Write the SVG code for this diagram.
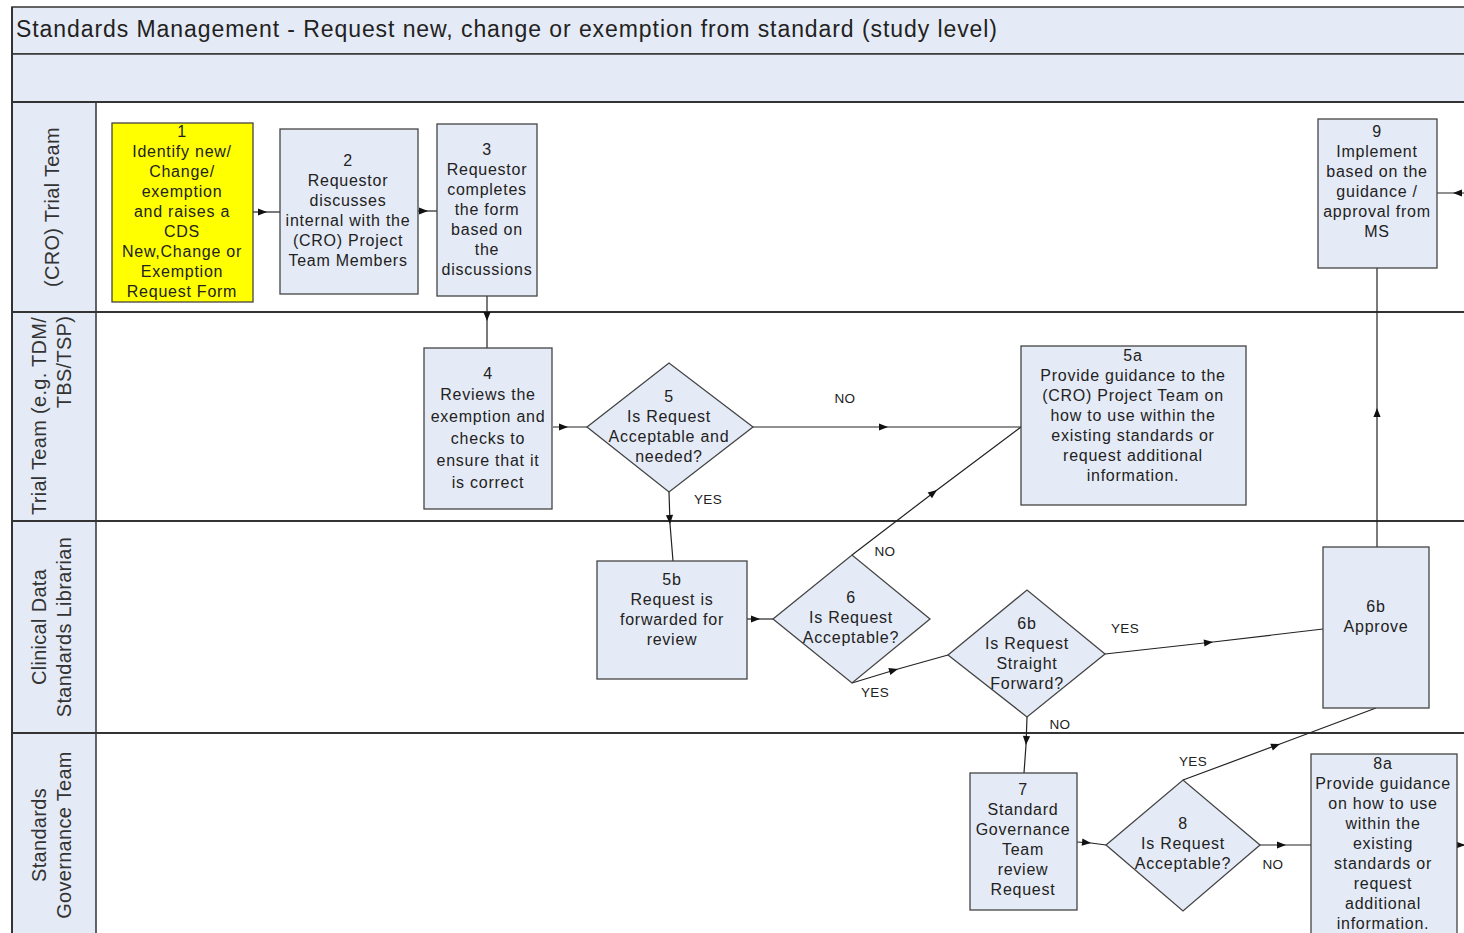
<svg xmlns="http://www.w3.org/2000/svg" width="1464" height="933" viewBox="0 0 1464 933">
<style>
.bg{fill:#ffffff}
.band{fill:#e5ebf6;stroke:#333;stroke-width:1.5}
.lane{stroke:#333;stroke-width:2;fill:none}
.box{fill:#e5ebf6;stroke:#444;stroke-width:1.3}
.yel{fill:#ffff00;stroke:#444;stroke-width:1.3}
.t{font-family:"Liberation Sans",Arial,sans-serif;font-size:16px;letter-spacing:0.75px;fill:#222;text-anchor:middle}
.lbl{font-family:"Liberation Sans",Arial,sans-serif;font-size:13.5px;letter-spacing:0.3px;fill:#222;text-anchor:middle}
.lt{font-family:"Liberation Sans",Arial,sans-serif;font-size:20px;letter-spacing:0.3px;fill:#333;text-anchor:middle}
.title{font-family:"Liberation Sans",Arial,sans-serif;font-size:23px;fill:#222}
.c{stroke:#222;stroke-width:1.2;fill:none;marker-mid:url(#a)}
</style>
<defs>
<marker id="a" viewBox="0 0 10 10" refX="10" refY="5" markerWidth="10" markerHeight="9" markerUnits="userSpaceOnUse" orient="auto"><path d="M0,1 L10,5 L0,9 z" fill="#111"/></marker>
</defs>
<rect class="bg" x="0" y="0" width="1464" height="933"/>
<g id="frame">
<rect class="band" x="12" y="7" width="1470" height="47"/>
<rect class="band" x="12" y="54" width="1470" height="48"/>
<rect class="band" x="12" y="102" width="84" height="840"/>
<line class="lane" x1="12" y1="312" x2="1464" y2="312"/>
<line class="lane" x1="12" y1="521" x2="1464" y2="521"/>
<line class="lane" x1="12" y1="733" x2="1464" y2="733"/>
<line class="lane" x1="12" y1="102" x2="1464" y2="102"/>
<line class="lane" x1="12" y1="7" x2="12" y2="933"/>
<text class="title" x="16" y="37" textLength="981" lengthAdjust="spacing">Standards Management - Request new, change or exemption from standard (study level)</text>
</g>
<g id="lane-labels">
<text class="lt" transform="translate(59,207) rotate(-90)">(CRO) Trial Team</text>
<text class="lt" transform="translate(46,416) rotate(-90)">Trial Team (e.g. TDM/</text>
<text class="lt" transform="translate(71,362) rotate(-90)">TBS/TSP)</text>
<text class="lt" transform="translate(46,627) rotate(-90)">Clinical Data</text>
<text class="lt" transform="translate(71,627) rotate(-90)">Standards Librarian</text>
<text class="lt" transform="translate(46,835) rotate(-90)">Standards</text>
<text class="lt" transform="translate(71,835) rotate(-90)">Governance Team</text>
</g>
<g id="connectors">
<path class="c" d="M253,212 L267,212 L280,212"/>
<path class="c" d="M418,211 L428,211 L437,211"/>
<path class="c" d="M487,296 L487,321 L487,349"/>
<path class="c" d="M553,427 L568,427 L587,427"/>
<path class="c" d="M753,427 L888,427 L1021,427"/>
<path class="c" d="M669,492 L670,524 L673,561"/>
<path class="c" d="M747,619 L760,619 L773,619"/>
<path class="c" d="M852,555 L937,490 L1021,427"/>
<path class="c" d="M852,683 L898,669 L948,655"/>
<path class="c" d="M1105,654 L1213,642 L1323,629"/>
<path class="c" d="M1377,547 L1377,408 L1377,268"/>
<path class="c" d="M1470,193 L1453,193 L1437,193"/>
<path class="c" d="M1027,717 L1026,745 L1024,773"/>
<path class="c" d="M1077,842 L1091,843 L1106,845"/>
<path class="c" d="M1260,845 L1286,845 L1311,845"/>
<path class="c" d="M1183,780 L1280,744 L1376,708"/>
<path class="c" d="M1457,845 L1465,845 L1475,845"/>
<text class="lbl" x="845" y="403">NO</text>
<text class="lbl" x="708" y="504">YES</text>
<text class="lbl" x="885" y="556">NO</text>
<text class="lbl" x="875" y="697">YES</text>
<text class="lbl" x="1125" y="633">YES</text>
<text class="lbl" x="1060" y="729">NO</text>
<text class="lbl" x="1193" y="766">YES</text>
<text class="lbl" x="1273" y="869">NO</text>
</g>
<g id="n1">
<rect class="yel" x="112" y="123" width="141" height="179"/>
<text class="t" x="182" y="137">1</text>
<text class="t" x="182" y="157">Identify new/</text>
<text class="t" x="182" y="177">Change/</text>
<text class="t" x="182" y="197">exemption</text>
<text class="t" x="182" y="217">and raises a</text>
<text class="t" x="182" y="237">CDS</text>
<text class="t" x="182" y="257">New,Change or</text>
<text class="t" x="182" y="277">Exemption</text>
<text class="t" x="182" y="297">Request Form</text>
</g>
<g id="n2">
<rect class="box" x="280" y="129" width="138" height="165"/>
<text class="t" x="348" y="166">2</text>
<text class="t" x="348" y="186">Requestor</text>
<text class="t" x="348" y="206">discusses</text>
<text class="t" x="348" y="226">internal with the</text>
<text class="t" x="348" y="246">(CRO) Project</text>
<text class="t" x="348" y="266">Team Members</text>
</g>
<g id="n3">
<rect class="box" x="437" y="124" width="100" height="172"/>
<text class="t" x="487" y="155">3</text>
<text class="t" x="487" y="175">Requestor</text>
<text class="t" x="487" y="195">completes</text>
<text class="t" x="487" y="215">the form</text>
<text class="t" x="487" y="235">based on</text>
<text class="t" x="487" y="255">the</text>
<text class="t" x="487" y="275">discussions</text>
</g>
<g id="n4">
<rect class="box" x="424" y="348" width="128" height="161"/>
<text class="t" x="488" y="379">4</text>
<text class="t" x="488" y="400">Reviews the</text>
<text class="t" x="488" y="422">exemption and</text>
<text class="t" x="488" y="444">checks to</text>
<text class="t" x="488" y="466">ensure that it</text>
<text class="t" x="488" y="488">is correct</text>
</g>
<g id="n5">
<polygon class="box" points="587,427 669,363 753,427 669,492"/>
<text class="t" x="669" y="402">5</text>
<text class="t" x="669" y="422">Is Request</text>
<text class="t" x="669" y="442">Acceptable and</text>
<text class="t" x="669" y="462">needed?</text>
</g>
<g id="n5a">
<rect class="box" x="1021" y="346" width="225" height="159"/>
<text class="t" x="1133" y="361">5a</text>
<text class="t" x="1133" y="381">Provide guidance to the</text>
<text class="t" x="1133" y="401">(CRO) Project Team on</text>
<text class="t" x="1133" y="421">how to use within the</text>
<text class="t" x="1133" y="441">existing standards or</text>
<text class="t" x="1133" y="461">request additional</text>
<text class="t" x="1133" y="481">information.</text>
</g>
<g id="n5b">
<rect class="box" x="597" y="561" width="150" height="118"/>
<text class="t" x="672" y="585">5b</text>
<text class="t" x="672" y="605">Request is</text>
<text class="t" x="672" y="625">forwarded for</text>
<text class="t" x="672" y="645">review</text>
</g>
<g id="n6">
<polygon class="box" points="773,619 852,555 930,619 852,683"/>
<text class="t" x="851" y="603">6</text>
<text class="t" x="851" y="623">Is Request</text>
<text class="t" x="851" y="643">Acceptable?</text>
</g>
<g id="n6b">
<polygon class="box" points="948,655 1027,590 1105,654 1027,717"/>
<text class="t" x="1027" y="629">6b</text>
<text class="t" x="1027" y="649">Is Request</text>
<text class="t" x="1027" y="669">Straight</text>
<text class="t" x="1027" y="689">Forward?</text>
</g>
<g id="n6b-approve">
<rect class="box" x="1323" y="547" width="106" height="161"/>
<text class="t" x="1376" y="612">6b</text>
<text class="t" x="1376" y="632">Approve</text>
</g>
<g id="n9">
<rect class="box" x="1318" y="119" width="119" height="149"/>
<text class="t" x="1377" y="137">9</text>
<text class="t" x="1377" y="157">Implement</text>
<text class="t" x="1377" y="177">based on the</text>
<text class="t" x="1377" y="197">guidance /</text>
<text class="t" x="1377" y="217">approval from</text>
<text class="t" x="1377" y="237">MS</text>
</g>
<g id="n7">
<rect class="box" x="970" y="773" width="107" height="137"/>
<text class="t" x="1023" y="795">7</text>
<text class="t" x="1023" y="815">Standard</text>
<text class="t" x="1023" y="835">Governance</text>
<text class="t" x="1023" y="855">Team</text>
<text class="t" x="1023" y="875">review</text>
<text class="t" x="1023" y="895">Request</text>
</g>
<g id="n8">
<polygon class="box" points="1106,845 1183,780 1260,845 1183,911"/>
<text class="t" x="1183" y="829">8</text>
<text class="t" x="1183" y="849">Is Request</text>
<text class="t" x="1183" y="869">Acceptable?</text>
</g>
<g id="n8a">
<rect class="box" x="1311" y="754" width="146" height="190"/>
<text class="t" x="1383" y="769">8a</text>
<text class="t" x="1383" y="789">Provide guidance</text>
<text class="t" x="1383" y="809">on how to use</text>
<text class="t" x="1383" y="829">within the</text>
<text class="t" x="1383" y="849">existing</text>
<text class="t" x="1383" y="869">standards or</text>
<text class="t" x="1383" y="889">request</text>
<text class="t" x="1383" y="909">additional</text>
<text class="t" x="1383" y="929">information.</text>
</g>
</svg>
